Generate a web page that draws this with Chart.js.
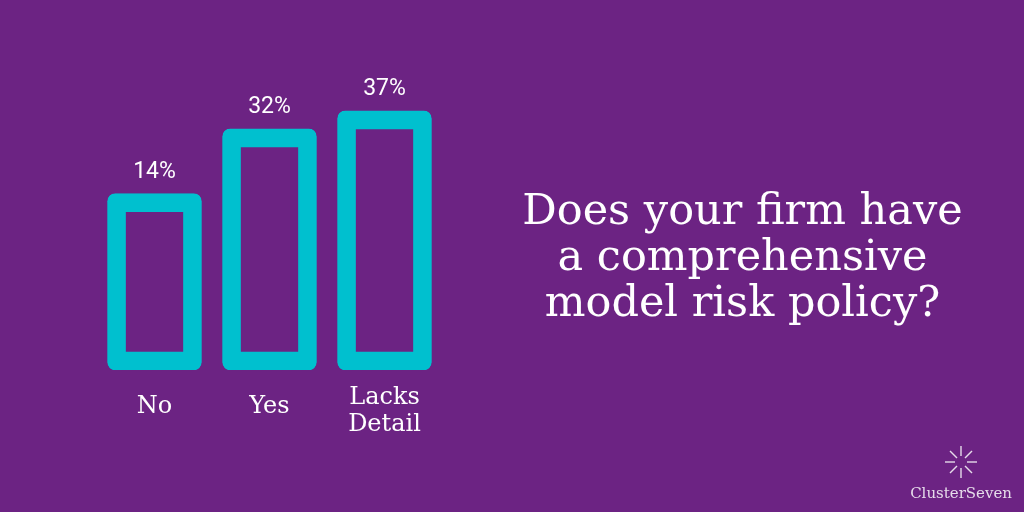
<!DOCTYPE html>
<html>
<head>
<meta charset="utf-8">
<script src="https://cdn.jsdelivr.net/npm/chart.js@4"></script>
<style>
  html, body { margin: 0; padding: 0; background: #6c2383; }
  #wrap { position: relative; width: 1024px; height: 512px; overflow: hidden; }
  #c { position: absolute; left: 0; top: 0; }
  #title { position: absolute; left: 440px; width: 605px; top: 186px; text-align: center;
    color: #fff; font-family: "DejaVu Serif", serif; font-size: 43px; line-height: 46px; }
  #logo { position: absolute; right: 12px; bottom: 10px; color: #e6dcea;
    font-family: "DejaVu Serif", serif; font-size: 15px; text-align: center; }
</style>
</head>
<body>
<div id="wrap">
  <canvas id="c" width="1024" height="512"></canvas>
  <div id="title">Does your firm have<br>a comprehensive<br>model risk policy?</div>
  <div id="logo">
    <svg width="40" height="36" viewBox="-20 -18 40 36">
      <g stroke="#e6dcea" stroke-width="1.4">
        <line x1="0" y1="-6" x2="0" y2="-16"/><line x1="0" y1="6" x2="0" y2="16"/>
        <line x1="-6" y1="0" x2="-16" y2="0"/><line x1="6" y1="0" x2="16" y2="0"/>
        <line x1="4" y1="-4" x2="11" y2="-11"/><line x1="-4" y1="4" x2="-11" y2="11"/>
        <line x1="-4" y1="-4" x2="-11" y2="-11"/><line x1="4" y1="4" x2="11" y2="11"/>
      </g>
    </svg><br>ClusterSeven
  </div>
</div>
<script>
// 數據
const categories = [['No'], ['Yes'], ['Lacks', 'Detail']];
const values = [14, 32, 37];
const valueLabels = ['14%', '32%', '37%'];

const labelPlugin = {
  id: 'labels',
  afterDatasetsDraw(chart) {
    const ctx = chart.ctx;
    const meta = chart.getDatasetMeta(0);
    ctx.save();
    ctx.fillStyle = '#ffffff';
    ctx.textAlign = 'center';
    meta.data.forEach((bar, i) => {
      ctx.font = '23px Roboto, sans-serif';
      ctx.textBaseline = 'bottom';
      ctx.fillText(valueLabels[i], bar.x, bar.y - 10);
      ctx.font = '24px "DejaVu Serif", serif';
      ctx.textBaseline = 'middle';
      const lines = categories[i];
      const startY = lines.length > 1 ? 398 : 407;
      lines.forEach((l, j) => ctx.fillText(l, bar.x, startY + j * 27));
    });
    ctx.restore();
  }
};

new Chart(document.getElementById('c').getContext('2d'), {
  type: 'bar',
  data: {
    labels: categories.map(c => c.join(' ')),
    datasets: [{
      data: values,
      base: -35,
      backgroundColor: 'rgba(0,0,0,0)',
      borderColor: '#00c0cf',
      borderWidth: 18,
      borderSkipped: false,
      borderRadius: 8,
      barThickness: 94
    }]
  },
  options: {
    responsive: false,
    animation: false,
    layout: { padding: { left: 97, right: 582, top: 10, bottom: 142 } },
    plugins: { legend: { display: false }, tooltip: { enabled: false } },
    scales: {
      x: { display: false },
      y: { display: false, min: -35, max: 65 }
    }
  },
  plugins: [labelPlugin]
});
</script>
</body>
</html>
